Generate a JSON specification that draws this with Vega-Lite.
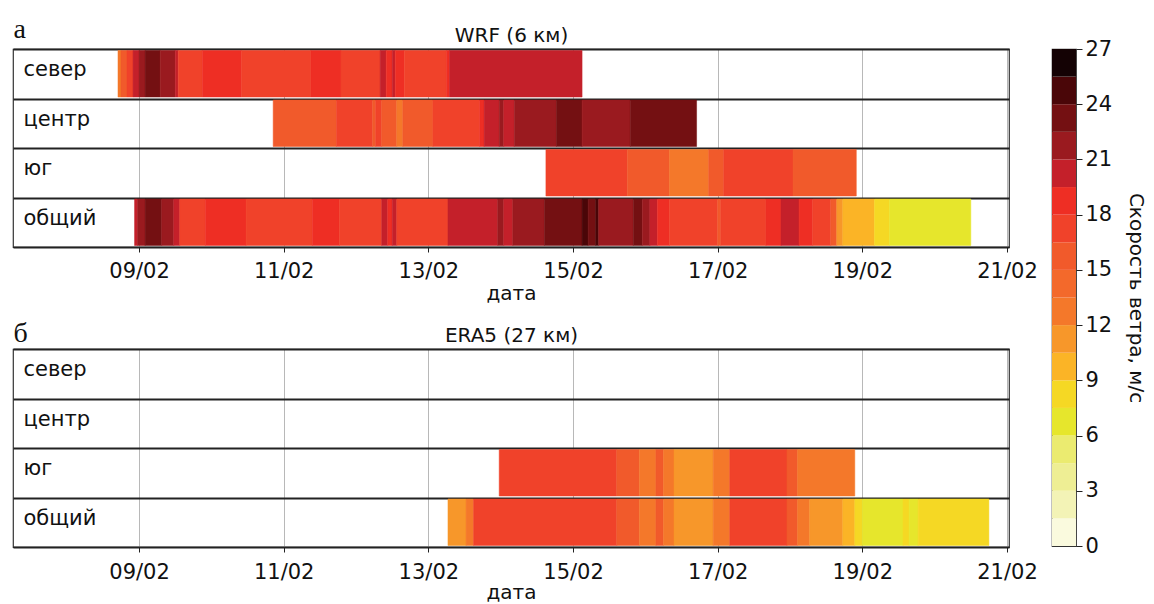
{
  "$schema": "https://vega.github.io/schema/vega-lite/v6.json",
  "background": "white",
  "padding": {"left": 12, "top": 14, "right": 4, "bottom": 0},
  "config": {
    "font": "DejaVu Sans",
    "view": {"stroke": "#333333", "strokeWidth": 1.2},
    "axis": {"labelFont": "DejaVu Sans", "labelFontSize": 21, "labelColor": "#111111", "titleFont": "DejaVu Sans", "titleFontSize": 20, "titleFontWeight": "normal", "titleColor": "#111111"}
  },
  "datasets": {
    "wrf": [
      {"r": "север", "s": "2020-02-08T17:00", "e": "2020-02-08T18:00", "v": 13},
      {"r": "север", "s": "2020-02-08T18:00", "e": "2020-02-08T20:00", "v": 15.5},
      {"r": "север", "s": "2020-02-08T20:00", "e": "2020-02-08T22:00", "v": 17},
      {"r": "север", "s": "2020-02-08T22:00", "e": "2020-02-09T00:00", "v": 20},
      {"r": "север", "s": "2020-02-09T00:00", "e": "2020-02-09T02:00", "v": 21.7},
      {"r": "север", "s": "2020-02-09T02:00", "e": "2020-02-09T07:00", "v": 23},
      {"r": "север", "s": "2020-02-09T07:00", "e": "2020-02-09T12:00", "v": 21.7},
      {"r": "север", "s": "2020-02-09T12:00", "e": "2020-02-09T13:00", "v": 20},
      {"r": "север", "s": "2020-02-09T13:00", "e": "2020-02-09T21:00", "v": 17},
      {"r": "север", "s": "2020-02-09T21:00", "e": "2020-02-10T10:00", "v": 18.7},
      {"r": "север", "s": "2020-02-10T10:00", "e": "2020-02-11T09:00", "v": 17},
      {"r": "север", "s": "2020-02-11T09:00", "e": "2020-02-11T19:00", "v": 18.7},
      {"r": "север", "s": "2020-02-11T19:00", "e": "2020-02-12T08:00", "v": 17},
      {"r": "север", "s": "2020-02-12T08:00", "e": "2020-02-12T10:00", "v": 20},
      {"r": "север", "s": "2020-02-12T10:00", "e": "2020-02-12T12:00", "v": 18.7},
      {"r": "север", "s": "2020-02-12T12:00", "e": "2020-02-12T13:00", "v": 20},
      {"r": "север", "s": "2020-02-12T13:00", "e": "2020-02-12T16:00", "v": 18.7},
      {"r": "север", "s": "2020-02-12T16:00", "e": "2020-02-13T06:00", "v": 17},
      {"r": "север", "s": "2020-02-13T06:00", "e": "2020-02-13T07:00", "v": 18.7},
      {"r": "север", "s": "2020-02-13T07:00", "e": "2020-02-15T03:00", "v": 20},
      {"r": "центр", "s": "2020-02-10T20:30", "e": "2020-02-11T17:30", "v": 15.5},
      {"r": "центр", "s": "2020-02-11T17:30", "e": "2020-02-12T05:30", "v": 17},
      {"r": "центр", "s": "2020-02-12T05:30", "e": "2020-02-12T06:30", "v": 15.5},
      {"r": "центр", "s": "2020-02-12T06:30", "e": "2020-02-12T08:30", "v": 17},
      {"r": "центр", "s": "2020-02-12T08:30", "e": "2020-02-12T13:30", "v": 15.5},
      {"r": "центр", "s": "2020-02-12T13:30", "e": "2020-02-12T15:30", "v": 13},
      {"r": "центр", "s": "2020-02-12T15:30", "e": "2020-02-13T01:30", "v": 15.5},
      {"r": "центр", "s": "2020-02-13T01:30", "e": "2020-02-13T17:00", "v": 17},
      {"r": "центр", "s": "2020-02-13T17:00", "e": "2020-02-13T18:30", "v": 18.7},
      {"r": "центр", "s": "2020-02-13T18:30", "e": "2020-02-13T23:30", "v": 20},
      {"r": "центр", "s": "2020-02-13T23:30", "e": "2020-02-14T01:00", "v": 21.7},
      {"r": "центр", "s": "2020-02-14T01:00", "e": "2020-02-14T04:30", "v": 20},
      {"r": "центр", "s": "2020-02-14T04:30", "e": "2020-02-14T18:30", "v": 21.7},
      {"r": "центр", "s": "2020-02-14T18:30", "e": "2020-02-15T03:00", "v": 23},
      {"r": "центр", "s": "2020-02-15T03:00", "e": "2020-02-15T19:00", "v": 21.7},
      {"r": "центр", "s": "2020-02-15T19:00", "e": "2020-02-16T17:00", "v": 23},
      {"r": "юг", "s": "2020-02-14T15:00", "e": "2020-02-15T18:00", "v": 17},
      {"r": "юг", "s": "2020-02-15T18:00", "e": "2020-02-16T08:00", "v": 15.5},
      {"r": "юг", "s": "2020-02-16T08:00", "e": "2020-02-16T21:00", "v": 13},
      {"r": "юг", "s": "2020-02-16T21:00", "e": "2020-02-17T02:00", "v": 15.5},
      {"r": "юг", "s": "2020-02-17T02:00", "e": "2020-02-18T01:00", "v": 17},
      {"r": "юг", "s": "2020-02-18T01:00", "e": "2020-02-18T22:00", "v": 15.5},
      {"r": "общий", "s": "2020-02-08T22:30", "e": "2020-02-08T23:30", "v": 20},
      {"r": "общий", "s": "2020-02-08T23:30", "e": "2020-02-09T02:00", "v": 21.7},
      {"r": "общий", "s": "2020-02-09T02:00", "e": "2020-02-09T07:30", "v": 23},
      {"r": "общий", "s": "2020-02-09T07:30", "e": "2020-02-09T11:30", "v": 21.7},
      {"r": "общий", "s": "2020-02-09T11:30", "e": "2020-02-09T13:30", "v": 20},
      {"r": "общий", "s": "2020-02-09T13:30", "e": "2020-02-09T22:00", "v": 17},
      {"r": "общий", "s": "2020-02-09T22:00", "e": "2020-02-10T11:30", "v": 18.7},
      {"r": "общий", "s": "2020-02-10T11:30", "e": "2020-02-11T09:30", "v": 17},
      {"r": "общий", "s": "2020-02-11T09:30", "e": "2020-02-11T18:30", "v": 18.7},
      {"r": "общий", "s": "2020-02-11T18:30", "e": "2020-02-12T08:30", "v": 17},
      {"r": "общий", "s": "2020-02-12T08:30", "e": "2020-02-12T10:30", "v": 20},
      {"r": "общий", "s": "2020-02-12T10:30", "e": "2020-02-12T12:00", "v": 18.7},
      {"r": "общий", "s": "2020-02-12T12:00", "e": "2020-02-12T13:30", "v": 20},
      {"r": "общий", "s": "2020-02-12T13:30", "e": "2020-02-13T06:30", "v": 17},
      {"r": "общий", "s": "2020-02-13T06:30", "e": "2020-02-13T23:00", "v": 20},
      {"r": "общий", "s": "2020-02-13T23:00", "e": "2020-02-14T01:00", "v": 21.7},
      {"r": "общий", "s": "2020-02-14T01:00", "e": "2020-02-14T04:00", "v": 20},
      {"r": "общий", "s": "2020-02-14T04:00", "e": "2020-02-14T14:30", "v": 21.7},
      {"r": "общий", "s": "2020-02-14T14:30", "e": "2020-02-15T03:00", "v": 23},
      {"r": "общий", "s": "2020-02-15T03:00", "e": "2020-02-15T05:00", "v": 24.7},
      {"r": "общий", "s": "2020-02-15T05:00", "e": "2020-02-15T07:30", "v": 23},
      {"r": "общий", "s": "2020-02-15T07:30", "e": "2020-02-15T08:30", "v": 24.7},
      {"r": "общий", "s": "2020-02-15T08:30", "e": "2020-02-15T20:00", "v": 21.7},
      {"r": "общий", "s": "2020-02-15T20:00", "e": "2020-02-15T23:00", "v": 23},
      {"r": "общий", "s": "2020-02-15T23:00", "e": "2020-02-16T01:30", "v": 21.7},
      {"r": "общий", "s": "2020-02-16T01:30", "e": "2020-02-16T04:00", "v": 20},
      {"r": "общий", "s": "2020-02-16T04:00", "e": "2020-02-16T08:00", "v": 18.7},
      {"r": "общий", "s": "2020-02-16T08:00", "e": "2020-02-17T00:00", "v": 17},
      {"r": "общий", "s": "2020-02-17T00:00", "e": "2020-02-17T01:00", "v": 15.5},
      {"r": "общий", "s": "2020-02-17T01:00", "e": "2020-02-17T16:00", "v": 17},
      {"r": "общий", "s": "2020-02-17T16:00", "e": "2020-02-17T21:00", "v": 18.7},
      {"r": "общий", "s": "2020-02-17T21:00", "e": "2020-02-18T03:00", "v": 20},
      {"r": "общий", "s": "2020-02-18T03:00", "e": "2020-02-18T07:30", "v": 18.7},
      {"r": "общий", "s": "2020-02-18T07:30", "e": "2020-02-18T13:30", "v": 17},
      {"r": "общий", "s": "2020-02-18T13:30", "e": "2020-02-18T15:30", "v": 15.5},
      {"r": "общий", "s": "2020-02-18T15:30", "e": "2020-02-18T17:30", "v": 11.2},
      {"r": "общий", "s": "2020-02-18T17:30", "e": "2020-02-19T04:00", "v": 9.7},
      {"r": "общий", "s": "2020-02-19T04:00", "e": "2020-02-19T09:00", "v": 8.2},
      {"r": "общий", "s": "2020-02-19T09:00", "e": "2020-02-20T12:00", "v": 6.7}
    ],
    "era": [
      {"r": "юг", "s": "2020-02-13T23:30", "e": "2020-02-15T14:30", "v": 17},
      {"r": "юг", "s": "2020-02-15T14:30", "e": "2020-02-15T22:00", "v": 15.5},
      {"r": "юг", "s": "2020-02-15T22:00", "e": "2020-02-16T03:30", "v": 13},
      {"r": "юг", "s": "2020-02-16T03:30", "e": "2020-02-16T06:00", "v": 15.5},
      {"r": "юг", "s": "2020-02-16T06:00", "e": "2020-02-16T09:30", "v": 13},
      {"r": "юг", "s": "2020-02-16T09:30", "e": "2020-02-16T22:30", "v": 11.2},
      {"r": "юг", "s": "2020-02-16T22:30", "e": "2020-02-17T04:00", "v": 13},
      {"r": "юг", "s": "2020-02-17T04:00", "e": "2020-02-17T23:00", "v": 17},
      {"r": "юг", "s": "2020-02-17T23:00", "e": "2020-02-18T02:30", "v": 15.5},
      {"r": "юг", "s": "2020-02-18T02:30", "e": "2020-02-18T21:30", "v": 13},
      {"r": "общий", "s": "2020-02-13T06:30", "e": "2020-02-13T12:30", "v": 11.2},
      {"r": "общий", "s": "2020-02-13T12:30", "e": "2020-02-13T15:00", "v": 13},
      {"r": "общий", "s": "2020-02-13T15:00", "e": "2020-02-15T14:30", "v": 17},
      {"r": "общий", "s": "2020-02-15T14:30", "e": "2020-02-15T22:00", "v": 15.5},
      {"r": "общий", "s": "2020-02-15T22:00", "e": "2020-02-16T03:30", "v": 13},
      {"r": "общий", "s": "2020-02-16T03:30", "e": "2020-02-16T06:00", "v": 15.5},
      {"r": "общий", "s": "2020-02-16T06:00", "e": "2020-02-16T09:30", "v": 13},
      {"r": "общий", "s": "2020-02-16T09:30", "e": "2020-02-16T22:30", "v": 11.2},
      {"r": "общий", "s": "2020-02-16T22:30", "e": "2020-02-17T04:00", "v": 13},
      {"r": "общий", "s": "2020-02-17T04:00", "e": "2020-02-17T23:00", "v": 17},
      {"r": "общий", "s": "2020-02-17T23:00", "e": "2020-02-18T02:30", "v": 15.5},
      {"r": "общий", "s": "2020-02-18T02:30", "e": "2020-02-18T06:30", "v": 13},
      {"r": "общий", "s": "2020-02-18T06:30", "e": "2020-02-18T17:30", "v": 11.2},
      {"r": "общий", "s": "2020-02-18T17:30", "e": "2020-02-18T21:30", "v": 9.7},
      {"r": "общий", "s": "2020-02-18T21:30", "e": "2020-02-19T00:00", "v": 8.2},
      {"r": "общий", "s": "2020-02-19T00:00", "e": "2020-02-19T13:30", "v": 6.7},
      {"r": "общий", "s": "2020-02-19T13:30", "e": "2020-02-19T15:30", "v": 8.2},
      {"r": "общий", "s": "2020-02-19T15:30", "e": "2020-02-19T18:30", "v": 6.7},
      {"r": "общий", "s": "2020-02-19T18:30", "e": "2020-02-20T18:00", "v": 8.2}
    ],
    "cbar": [
      {"lo": 0, "hi": 1.5, "v": 0.75},
      {"lo": 1.5, "hi": 3, "v": 2.25},
      {"lo": 3, "hi": 4.5, "v": 3.75},
      {"lo": 4.5, "hi": 6, "v": 5.25},
      {"lo": 6, "hi": 7.5, "v": 6.75},
      {"lo": 7.5, "hi": 9, "v": 8.25},
      {"lo": 9, "hi": 10.5, "v": 9.75},
      {"lo": 10.5, "hi": 12, "v": 11.25},
      {"lo": 12, "hi": 13.5, "v": 12.75},
      {"lo": 13.5, "hi": 15, "v": 14.25},
      {"lo": 15, "hi": 16.5, "v": 15.75},
      {"lo": 16.5, "hi": 18, "v": 17.25},
      {"lo": 18, "hi": 19.5, "v": 18.75},
      {"lo": 19.5, "hi": 21, "v": 20.25},
      {"lo": 21, "hi": 22.5, "v": 21.75},
      {"lo": 22.5, "hi": 24, "v": 23.25},
      {"lo": 24, "hi": 25.5, "v": 24.75},
      {"lo": 25.5, "hi": 27, "v": 26.25}
    ]
  },
  "hconcat": [
    {
      "spacing": 14,
      "vconcat": [
        {
          "width": 996,
          "height": 198,
          "data": {"name": "wrf"},
          "encoding": {
            "y": {
              "field": "r", "type": "nominal",
              "scale": {"domain": ["север", "центр", "юг", "общий"], "paddingInner": 0, "paddingOuter": 0},
              "axis": {"title": "а", "titleAngle": 0, "titleX": 0, "titleY": -12, "titleAlign": "left", "titleBaseline": "alphabetic", "titleFont": "Liberation Serif", "titleFontSize": 28, "labelAlign": "left", "labelBaseline": "middle", "labelPadding": -10, "labelOffset": -4, "ticks": false, "tickSize": 0, "domain": false, "grid": true, "tickBand": "extent", "gridColor": "#222222", "gridWidth": 1.8}
            },
            "x2": {"field": "e"},
            "color": {"field": "v", "type": "quantitative", "legend": null, "scale": {"type": "threshold", "domain": [1.5, 3, 4.5, 6, 7.5, 9, 10.5, 12, 13.5, 15, 16.5, 18, 19.5, 21, 22.5, 24, 25.5], "range": ["#fafade", "#f3f3b6", "#eeee94", "#ebeb70", "#e6e62c", "#f5d824", "#fbb426", "#f7972a", "#f4782a", "#f3692b", "#f15a2b", "#f0422a", "#ee2e24", "#c4202a", "#9a1a1f", "#741012", "#4a0608", "#140204"]}},
            "stroke": {"field": "v", "type": "quantitative", "legend": null, "scale": {"type": "threshold", "domain": [1.5, 3, 4.5, 6, 7.5, 9, 10.5, 12, 13.5, 15, 16.5, 18, 19.5, 21, 22.5, 24, 25.5], "range": ["#fafade", "#f3f3b6", "#eeee94", "#ebeb70", "#e6e62c", "#f5d824", "#fbb426", "#f7972a", "#f4782a", "#f3692b", "#f15a2b", "#f0422a", "#ee2e24", "#c4202a", "#9a1a1f", "#741012", "#4a0608", "#140204"]}}
          },
          "layer": [
            {
              "mark": {"type": "bar", "height": {"band": 0.94}, "strokeWidth": 0.5},
              "encoding": {
                "x": {
                  "field": "s", "type": "temporal",
                  "scale": {"domain": [{"year": 2020, "month": 2, "date": 7, "hours": 6, "minutes": 10}, {"year": 2020, "month": 2, "date": 21, "hours": 0, "minutes": 40}]},
                  "axis": {"orient": "bottom", "title": "дата", "format": "%d/%m", "values": [{"year": 2020, "month": 2, "date": 9}, {"year": 2020, "month": 2, "date": 11}, {"year": 2020, "month": 2, "date": 13}, {"year": 2020, "month": 2, "date": 15}, {"year": 2020, "month": 2, "date": 17}, {"year": 2020, "month": 2, "date": 19}, {"year": 2020, "month": 2, "date": 21}], "labelFlush": false, "grid": true, "gridColor": "#b8b8b8", "gridWidth": 1, "tickColor": "#222222", "tickSize": 5, "domain": false, "labelPadding": 8, "titlePadding": 2}
                }
              }
            },
            {
              "mark": {"type": "bar", "height": {"band": 0.94}, "opacity": 0},
              "encoding": {
                "x": {"field": "s", "type": "temporal", "axis": {"orient": "top", "title": "WRF (6 км)", "labels": false, "ticks": false, "domain": false, "grid": false, "titlePadding": 4}}
              }
            }
          ],
          "resolve": {"axis": {"x": "independent"}}
        },
        {
          "width": 996,
          "height": 198,
          "data": {"name": "era"},
          "encoding": {
            "y": {
              "field": "r", "type": "nominal",
              "scale": {"domain": ["север", "центр", "юг", "общий"], "paddingInner": 0, "paddingOuter": 0},
              "axis": {"title": "б", "titleAngle": 0, "titleX": 0, "titleY": -8, "titleAlign": "left", "titleBaseline": "alphabetic", "titleFont": "Liberation Serif", "titleFontSize": 28, "labelAlign": "left", "labelBaseline": "middle", "labelPadding": -10, "labelOffset": -4, "ticks": false, "tickSize": 0, "domain": false, "grid": true, "tickBand": "extent", "gridColor": "#222222", "gridWidth": 1.8}
            },
            "x2": {"field": "e"},
            "color": {"field": "v", "type": "quantitative", "legend": null, "scale": {"type": "threshold", "domain": [1.5, 3, 4.5, 6, 7.5, 9, 10.5, 12, 13.5, 15, 16.5, 18, 19.5, 21, 22.5, 24, 25.5], "range": ["#fafade", "#f3f3b6", "#eeee94", "#ebeb70", "#e6e62c", "#f5d824", "#fbb426", "#f7972a", "#f4782a", "#f3692b", "#f15a2b", "#f0422a", "#ee2e24", "#c4202a", "#9a1a1f", "#741012", "#4a0608", "#140204"]}},
            "stroke": {"field": "v", "type": "quantitative", "legend": null, "scale": {"type": "threshold", "domain": [1.5, 3, 4.5, 6, 7.5, 9, 10.5, 12, 13.5, 15, 16.5, 18, 19.5, 21, 22.5, 24, 25.5], "range": ["#fafade", "#f3f3b6", "#eeee94", "#ebeb70", "#e6e62c", "#f5d824", "#fbb426", "#f7972a", "#f4782a", "#f3692b", "#f15a2b", "#f0422a", "#ee2e24", "#c4202a", "#9a1a1f", "#741012", "#4a0608", "#140204"]}}
          },
          "layer": [
            {
              "mark": {"type": "bar", "height": {"band": 0.94}, "strokeWidth": 0.5},
              "encoding": {
                "x": {
                  "field": "s", "type": "temporal",
                  "scale": {"domain": [{"year": 2020, "month": 2, "date": 7, "hours": 6, "minutes": 10}, {"year": 2020, "month": 2, "date": 21, "hours": 0, "minutes": 40}]},
                  "axis": {"orient": "bottom", "title": "дата", "format": "%d/%m", "values": [{"year": 2020, "month": 2, "date": 9}, {"year": 2020, "month": 2, "date": 11}, {"year": 2020, "month": 2, "date": 13}, {"year": 2020, "month": 2, "date": 15}, {"year": 2020, "month": 2, "date": 17}, {"year": 2020, "month": 2, "date": 19}, {"year": 2020, "month": 2, "date": 21}], "labelFlush": false, "grid": true, "gridColor": "#b8b8b8", "gridWidth": 1, "tickColor": "#222222", "tickSize": 5, "domain": false, "labelPadding": 9, "titlePadding": 0}
                }
              }
            },
            {
              "mark": {"type": "bar", "height": {"band": 0.94}, "opacity": 0},
              "encoding": {
                "x": {"field": "s", "type": "temporal", "axis": {"orient": "top", "title": "ERA5 (27 км)", "labels": false, "ticks": false, "domain": false, "grid": false, "titlePadding": 4}}
              }
            }
          ],
          "resolve": {"axis": {"x": "independent"}}
        }
      ]
    },
    {
      "width": 24,
      "height": 497,
      "data": {"name": "cbar"},
      "mark": {"type": "rect"},
      "encoding": {
        "y": {"field": "lo", "type": "quantitative", "scale": {"domain": [0, 27], "nice": false, "zero": false}, "axis": {"orient": "right", "values": [0, 3, 6, 9, 12, 15, 18, 21, 24, 27], "title": "Скорость ветра, м/с", "titlePadding": 14, "tickSize": 6, "tickColor": "#222222", "domain": false, "grid": false, "labelPadding": 3}},
        "y2": {"field": "hi"},
        "color": {"field": "v", "type": "quantitative", "legend": null, "scale": {"type": "threshold", "domain": [1.5, 3, 4.5, 6, 7.5, 9, 10.5, 12, 13.5, 15, 16.5, 18, 19.5, 21, 22.5, 24, 25.5], "range": ["#fafade", "#f3f3b6", "#eeee94", "#ebeb70", "#e6e62c", "#f5d824", "#fbb426", "#f7972a", "#f4782a", "#f3692b", "#f15a2b", "#f0422a", "#ee2e24", "#c4202a", "#9a1a1f", "#741012", "#4a0608", "#140204"]}}
      }
    }
  ],
  "spacing": 13
}
